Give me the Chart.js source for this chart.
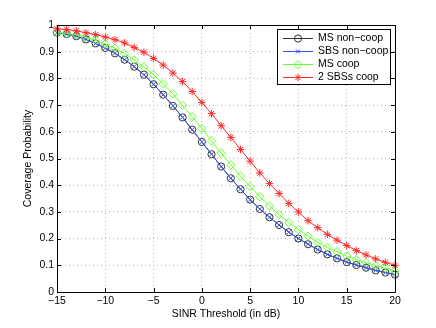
<!DOCTYPE html>
<html>
<head>
<meta charset="utf-8">
<script src="https://cdn.jsdelivr.net/npm/chart.js@4/dist/chart.umd.min.js"></script>
<style>
html,body{margin:0;padding:0;background:#fff;}
canvas{display:block;}
</style>
</head>
<body>
<canvas id="c" width="436" height="328"></canvas>
<script>
const thresholds = [-15,-14,-13,-12,-11,-10,-9,-8,-7,-6,-5,-4,-3,-2,-1,0,1,2,3,4,5,6,7,8,9,10,11,12,13,14,15,16,17,18,19,20];
const msNonCoop = [0.971,0.966,0.958,0.946,0.931,0.914,0.894,0.870,0.844,0.814,0.778,0.739,0.697,0.654,0.608,0.562,0.516,0.470,0.426,0.385,0.346,0.311,0.280,0.251,0.224,0.200,0.179,0.159,0.141,0.126,0.112,0.101,0.091,0.081,0.073,0.065];
const sbsNonCoop = [0.971,0.966,0.958,0.946,0.931,0.914,0.894,0.870,0.844,0.814,0.778,0.739,0.697,0.654,0.608,0.562,0.516,0.470,0.426,0.385,0.346,0.311,0.280,0.251,0.224,0.200,0.179,0.159,0.141,0.126,0.112,0.101,0.091,0.081,0.073,0.065];
const msCoop = [0.972,0.969,0.963,0.954,0.943,0.929,0.913,0.893,0.869,0.843,0.814,0.780,0.742,0.699,0.657,0.612,0.566,0.521,0.476,0.434,0.395,0.357,0.322,0.290,0.260,0.234,0.209,0.186,0.167,0.151,0.135,0.121,0.110,0.099,0.089,0.079];
const sbs2Coop = [0.986,0.983,0.978,0.971,0.964,0.955,0.945,0.933,0.916,0.898,0.875,0.850,0.820,0.788,0.751,0.710,0.668,0.623,0.579,0.534,0.490,0.446,0.406,0.369,0.332,0.300,0.267,0.241,0.216,0.194,0.174,0.155,0.139,0.124,0.111,0.100];
const seriesNames = ['MS non\u2212coop','SBS non\u2212coop','MS coop','2 SBSs coop'];
const xTicks = [-15,-10,-5,0,5,10,15,20];
const yTicks = [0,0.1,0.2,0.3,0.4,0.5,0.6,0.7,0.8,0.9,1];

const FONT = '"Liberation Sans", Arial, Helvetica, sans-serif';
const FS = 10.5;
const colors = ['#333333','#3355ee','#66ff33','#ff2a2a'];
const styles = ['circle','crossRot','rectRot','star'];
const radii = [3.6,3,4.2,3.8];
const values = [msNonCoop,sbsNonCoop,msCoop,sbs2Coop];

const datasets = values.map((arr,i)=>({
  label: seriesNames[i],
  data: thresholds.map((t,j)=>({x:t,y:arr[j]})),
  borderColor: colors[i],
  backgroundColor: 'rgba(0,0,0,0)',
  pointBorderColor: colors[i],
  pointBackgroundColor: 'rgba(0,0,0,0)',
  pointStyle: styles[i],
  pointRadius: radii[i],
  pointBorderWidth: 1,
  borderWidth: 1,
  tension: 0,
  clip: false,
  order: 4-i
}));

const fmt = v => {
  const r = Math.round(v*10)/10;
  const s = String(r);
  return r < 0 ? '\u2212' + s.slice(1) : s;
};

const framePlugin = {
  id: 'frame',
  afterDatasetsDraw(chart){
    const {ctx, chartArea:a, scales} = chart;
    ctx.save();
    ctx.strokeStyle = '#000';
    ctx.lineWidth = 1;
    ctx.beginPath();
    ctx.rect(Math.round(a.left)+0.5, Math.round(a.top)+0.5, Math.round(a.right-a.left), Math.round(a.bottom-a.top));
    ctx.stroke();
    const tl = 4;
    ctx.beginPath();
    xTicks.forEach(v=>{
      const px = Math.round(scales.x.getPixelForValue(v))+0.5;
      ctx.moveTo(px,a.bottom); ctx.lineTo(px,a.bottom-tl);
      ctx.moveTo(px,a.top); ctx.lineTo(px,a.top+tl);
    });
    yTicks.forEach(v=>{
      const py = Math.round(scales.y.getPixelForValue(v))+0.5;
      ctx.moveTo(a.left,py); ctx.lineTo(a.left+tl,py);
      ctx.moveTo(a.right,py); ctx.lineTo(a.right-tl,py);
    });
    ctx.stroke();

    // legend
    const bx = 277.5, by = 29.5, bw = 113, bh = 55;
    ctx.fillStyle = '#fff';
    ctx.fillRect(bx,by,bw,bh);
    ctx.strokeStyle = '#000';
    ctx.strokeRect(bx,by,bw,bh);
    const rowY = [38,51,64,77];
    ctx.font = FS + 'px ' + FONT;
    ctx.textBaseline = 'middle';
    chart.data.datasets.forEach((ds,i)=>{
      const y = rowY[i];
      ctx.strokeStyle = ds.borderColor;
      ctx.lineWidth = 1;
      ctx.beginPath(); ctx.moveTo(283,y+0.5); ctx.lineTo(313,y+0.5); ctx.stroke();
      ctx.fillStyle = 'rgba(0,0,0,0)';
      Chart.helpers.drawPoint(ctx,{pointStyle:ds.pointStyle,radius:ds.pointRadius,borderWidth:1,rotation:0},298,y+0.5);
      ctx.fillStyle = '#000';
      ctx.textAlign = 'left';
      ctx.fillText(ds.label,318,y+0.5);
    });
    ctx.restore();
  }
};

new Chart(document.getElementById('c'),{
  type:'line',
  data:{datasets},
  plugins:[framePlugin],
  options:{
    responsive:false,
    animation:false,
    devicePixelRatio:1,
    layout:{padding:{left:0,right:41,top:25,bottom:0}},
    plugins:{legend:{display:false},tooltip:{enabled:false}},
    elements:{line:{fill:false}},
    scales:{
      x:{
        type:'linear',min:-15,max:20,
        afterBuildTicks(s){ s.ticks = xTicks.map(v=>({value:v})); },
        afterFit(s){ s.height = 36; },
        ticks:{color:'#000',font:{family:FONT,size:FS},padding:3,maxRotation:0,autoSkip:false,callback:v=>fmt(v)},
        grid:{color:'#b4b4b4',lineWidth:1,drawTicks:false},
        border:{display:false,dash:[1,3]},
        title:{display:true,text:'SINR Threshold (in dB)',color:'#000',font:{family:FONT,size:FS},padding:{top:0,bottom:8}}
      },
      y:{
        type:'linear',min:0,max:1,
        afterBuildTicks(s){ s.ticks = yTicks.map(v=>({value:v})); },
        afterFit(s){ s.width = 57; },
        ticks:{color:'#000',font:{family:FONT,size:FS},padding:3,autoSkip:false,callback:v=>fmt(v)},
        grid:{color:'#b4b4b4',lineWidth:1,drawTicks:false},
        border:{display:false,dash:[1,3]},
        title:{display:true,text:'Coverage Probability',color:'#000',font:{family:FONT,size:FS},padding:{top:22,bottom:0}}
      }
    }
  }
});
</script>
</body>
</html>
